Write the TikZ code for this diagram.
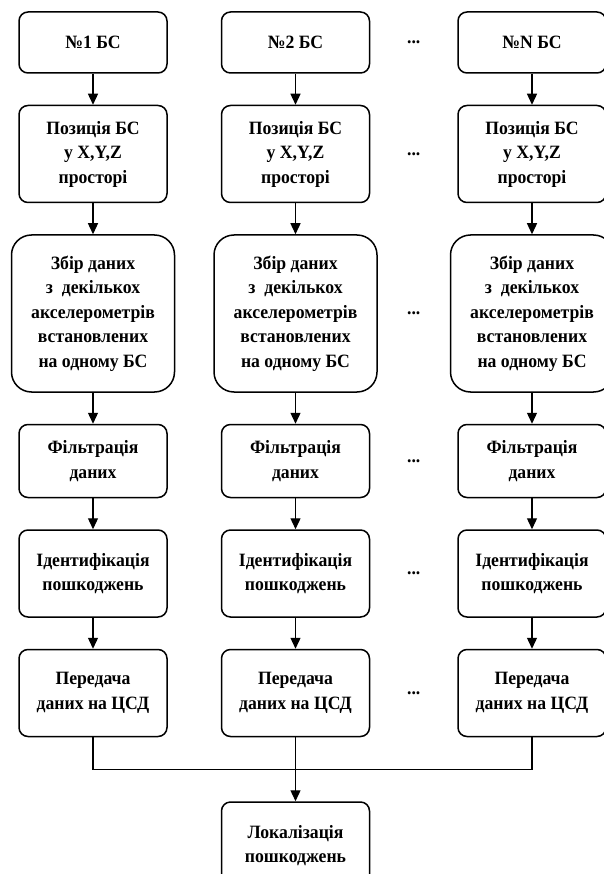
\documentclass[tikz,border=0pt]{standalone}
\usepackage{fontspec}
\setmainfont{Liberation Serif}[FakeStretch=0.94]
\usetikzlibrary{arrows.meta, positioning, calc}
\tikzset{
  blk/.style ={rectangle, draw=black, line width=1.5pt, minimum width=148pt,
               rounded corners=9pt, align=center, inner sep=2pt,
               font=\fontsize{18.8}{24.5}\selectfont\bfseries},
  big/.style ={blk, minimum width=163pt, rounded corners=20pt},
  dots/.style={font=\fontsize{18.8}{24.5}\selectfont\bfseries},
  arr/.style ={-{Triangle[length=11pt, width=10pt]}, line width=1.3pt},
  lnk/.style ={line width=1.3pt}
}

\begin{document}
\begin{tikzpicture}[node distance=31pt]
    \useasboundingbox (0pt,0pt) rectangle (603pt,-874pt);
    % column 1
    \node[blk, minimum height=61pt] (n1) at (93pt,-42.5pt) {№1 БС};
    \node[blk, minimum height=97pt, below=of n1] (pos1) {Позиція БС\\у X,Y,Z\\просторі};
    \node[big, minimum height=157pt, below=of pos1] (zbir1) {Збір даних\\з~~декількох\\акселерометрів\\встановлених\\на одному БС};
    \node[blk, minimum height=73pt, below=of zbir1] (filt1) {Фільтрація\\даних};
    \node[blk, minimum height=87pt, below=of filt1] (ident1) {Ідентифікація\\пошкоджень};
    \node[blk, minimum height=87pt, below=of ident1] (pered1) {Передача\\даних на ЦСД};
    % column 2
    \node[blk, minimum height=61pt, right=53pt of n1] (n2) {№2 БС};
    \node[blk, minimum height=97pt, below=of n2] (pos2) {Позиція БС\\у X,Y,Z\\просторі};
    \node[big, minimum height=157pt, below=of pos2] (zbir2) {Збір даних\\з~~декількох\\акселерометрів\\встановлених\\на одному БС};
    \node[blk, minimum height=73pt, below=of zbir2] (filt2) {Фільтрація\\даних};
    \node[blk, minimum height=87pt, below=of filt2] (ident2) {Ідентифікація\\пошкоджень};
    \node[blk, minimum height=87pt, below=of ident2] (pered2) {Передача\\даних на ЦСД};
    % column N
    \node[blk, minimum height=61pt, right=87pt of n2] (n3) {№N БС};
    \node[blk, minimum height=97pt, below=of n3] (pos3) {Позиція БС\\у X,Y,Z\\просторі};
    \node[big, minimum height=157pt, below=of pos3] (zbir3) {Збір даних\\з~~декількох\\акселерометрів\\встановлених\\на одному БС};
    \node[blk, minimum height=73pt, below=of zbir3] (filt3) {Фільтрація\\даних};
    \node[blk, minimum height=87pt, below=of filt3] (ident3) {Ідентифікація\\пошкоджень};
    \node[blk, minimum height=87pt, below=of ident3] (pered3) {Передача\\даних на ЦСД};
    % result
    \node[blk, minimum height=87pt, below=64pt of pered2] (loc) {Локалізація\\пошкоджень};
    % dots between column 2 and column N
    \node[dots] (d1) at ($(n2.east)!0.5!(n3.west)$) {...};
    \node[dots] (d2) at ($(pos2.east)!0.5!(pos3.west)$) {...};
    \node[dots] (d3) at ($(zbir2.east)!0.5!(zbir3.west)$) {...};
    \node[dots] (d4) at ($(filt2.east)!0.5!(filt3.west)$) {...};
    \node[dots] (d5) at ($(ident2.east)!0.5!(ident3.west)$) {...};
    \node[dots] (d6) at ($(pered2.east)!0.5!(pered3.west)$) {...};
    \draw[arr] (n1) -- (pos1);
    \draw[arr] (pos1) -- (zbir1);
    \draw[arr] (zbir1) -- (filt1);
    \draw[arr] (filt1) -- (ident1);
    \draw[arr] (ident1) -- (pered1);
    \draw[arr] (n2) -- (pos2);
    \draw[arr] (pos2) -- (zbir2);
    \draw[arr] (zbir2) -- (filt2);
    \draw[arr] (filt2) -- (ident2);
    \draw[arr] (ident2) -- (pered2);
    \draw[arr] (n3) -- (pos3);
    \draw[arr] (pos3) -- (zbir3);
    \draw[arr] (zbir3) -- (filt3);
    \draw[arr] (filt3) -- (ident3);
    \draw[arr] (ident3) -- (pered3);
    \coordinate (join) at ($(pered2.south)!0.5!(loc.north)$);
    \draw[lnk] (pered1) |- (join) -| (pered3);
    \draw[arr] (pered2) -- (loc);
  \end{tikzpicture}
\end{document}
